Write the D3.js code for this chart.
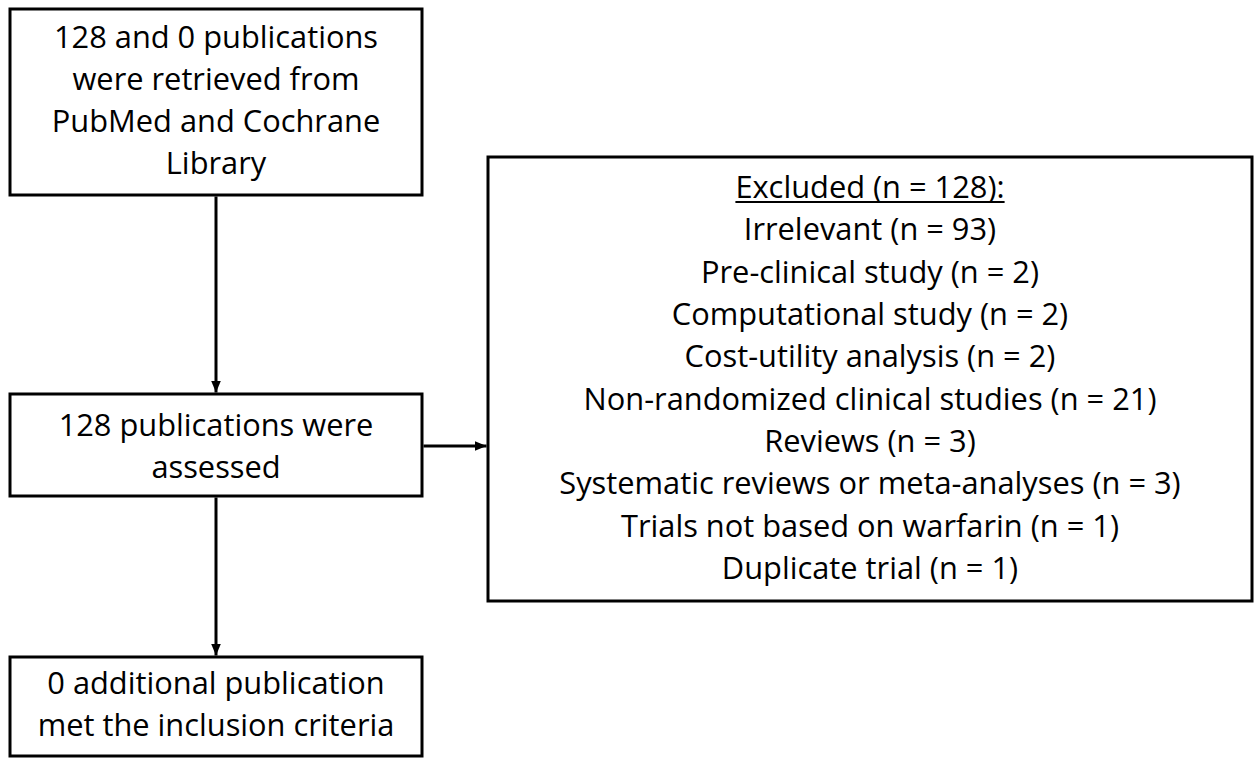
<!DOCTYPE html>
<html>
<head>
<meta charset="utf-8">
<script src="https://cdn.jsdelivr.net/npm/d3@7"></script>
<style>
  body { margin: 0; background: #fff; }
  text { font-family: "Open Sans", Lato, sans-serif; fill: #000; }
</style>
</head>
<body>
<div id="chart"></div>
<script>
// flow text
const sourceLines = ["128 and 0 publications", "were retrieved from", "PubMed and Cochrane", "Library"];
const assessedLines = ["128 publications were", "assessed"];
const includedLines = ["0 additional publication", "met the inclusion criteria"];

const excludedTotal = 128;
const excludedReasons = ["Irrelevant", "Pre-clinical study", "Computational study", "Cost-utility analysis",
  "Non-randomized clinical studies", "Reviews", "Systematic reviews or meta-analyses",
  "Trials not based on warfarin", "Duplicate trial"];
const excludedCounts = [93, 2, 2, 2, 21, 3, 3, 1, 1];

const width = 1254, height = 758;
const fontSize = 30.8;

const svg = d3.select("#chart")
  .append("svg")
  .attr("width", width)
  .attr("height", height);

svg.append("defs").append("marker")
  .attr("id", "arrow")
  .attr("viewBox", "0 0 12 12")
  .attr("refX", 12)
  .attr("refY", 6)
  .attr("markerWidth", 12)
  .attr("markerHeight", 12)
  .attr("markerUnits", "userSpaceOnUse")
  .attr("orient", "auto")
  .append("path")
  .attr("d", "M0,1L12,6L0,11Z")
  .attr("fill", "#000");

// left column boxes
const boxes = [
  {lines: sourceLines, x: 10, y: 9, w: 412, h: 186, base: 48},
  {lines: assessedLines, x: 10, y: 394, w: 412, h: 102, base: 436},
  {lines: includedLines, x: 10, y: 657, w: 412, h: 99, base: 694}
];
const lineGap = 42;

boxes.forEach(b => {
  const g = svg.append("g");
  g.append("rect")
    .attr("x", b.x).attr("y", b.y)
    .attr("width", b.w).attr("height", b.h)
    .attr("fill", "#fff")
    .attr("stroke", "#000")
    .attr("stroke-width", 3);
  g.selectAll("text")
    .data(b.lines)
    .enter()
    .append("text")
    .attr("x", b.x + b.w / 2)
    .attr("y", (d, i) => b.base + i * lineGap)
    .attr("text-anchor", "middle")
    .attr("font-size", fontSize)
    .text(d => d);
});

// excluded box
const ex = {x: 488, y: 157, w: 764, h: 444};
svg.append("rect")
  .attr("x", ex.x).attr("y", ex.y)
  .attr("width", ex.w).attr("height", ex.h)
  .attr("fill", "#fff")
  .attr("stroke", "#000")
  .attr("stroke-width", 3);

const rows = [`Excluded (n = ${excludedTotal}):`]
  .concat(excludedReasons.map((r, i) => `${r} (n = ${excludedCounts[i]})`));

const yRow = d3.scalePoint()
  .domain(d3.range(rows.length))
  .range([198, 579]);

const rowText = svg.selectAll(".ex-row")
  .data(rows)
  .enter()
  .append("text")
  .attr("class", "ex-row")
  .attr("x", ex.x + ex.w / 2)
  .attr("y", (d, i) => yRow(i))
  .attr("text-anchor", "middle")
  .attr("font-size", fontSize)
  .text(d => d);

// underline the title as one solid line
const tw = rowText.node().getComputedTextLength();
svg.append("line")
  .attr("x1", ex.x + ex.w / 2 - tw / 2)
  .attr("x2", ex.x + ex.w / 2 + tw / 2)
  .attr("y1", yRow(0) + 4)
  .attr("y2", yRow(0) + 4)
  .attr("stroke", "#000")
  .attr("stroke-width", 2);

// arrows
const cx = boxes[0].x + boxes[0].w / 2;
const arrows = [
  [cx, boxes[0].y + boxes[0].h + 1.5, cx, boxes[1].y - 1.5],
  [cx, boxes[1].y + boxes[1].h + 1.5, cx, boxes[2].y - 1.5],
  [boxes[1].x + boxes[1].w + 1.5, 446, ex.x - 1.5, 446]
];
svg.selectAll(".arrow")
  .data(arrows)
  .enter()
  .append("line")
  .attr("class", "arrow")
  .attr("x1", d => d[0]).attr("y1", d => d[1])
  .attr("x2", d => d[2]).attr("y2", d => d[3])
  .attr("stroke", "#000")
  .attr("stroke-width", 3)
  .attr("marker-end", "url(#arrow)");
</script>
</body>
</html>
